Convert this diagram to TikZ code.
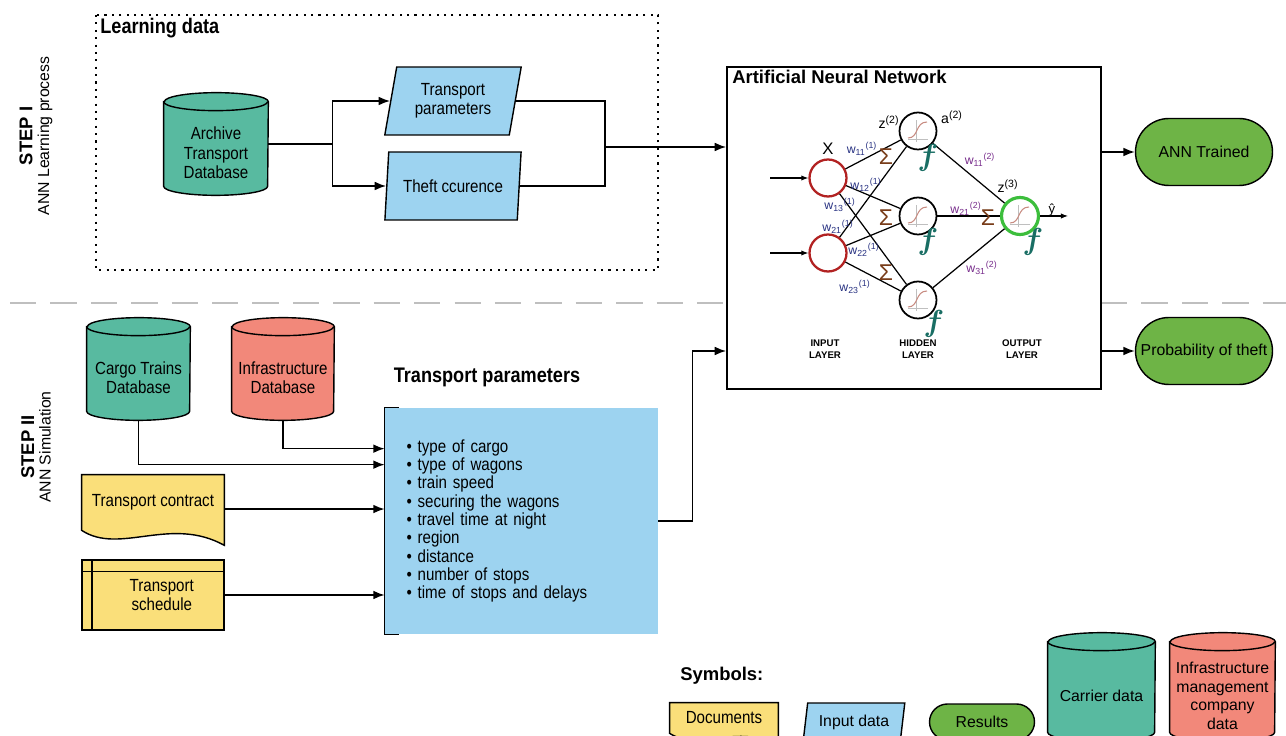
\documentclass[tikz,border=0pt]{standalone}
\usepackage{fontspec}
\setmainfont{Liberation Sans}
\newfontfamily\narrowsf{Liberation Sans}[FakeStretch=0.86]
\usetikzlibrary{shapes.geometric,positioning,arrows.meta,calc}
\pgfdeclarelayer{background}
\pgfsetlayers{background,main}

\definecolor{dbteal}{RGB}{88,186,160}
\definecolor{dbsalmon}{RGB}{242,136,122}
\definecolor{inblue}{RGB}{157,211,240}
\definecolor{docyellow}{RGB}{250,223,122}
\definecolor{resgreen}{RGB}{110,180,70}
\definecolor{sigmabrown}{RGB}{120,60,25}
\definecolor{fteal}{RGB}{25,110,100}
\definecolor{wblue}{RGB}{40,50,130}
\definecolor{wpurple}{RGB}{120,45,140}
\definecolor{inred}{RGB}{178,34,34}
\definecolor{outgreen}{RGB}{60,190,60}
\definecolor{sigcurve}{RGB}{200,140,130}

\begin{document}
\begin{tikzpicture}[x=0.02cm, y=-0.02cm,
		every node/.style={inner sep=0pt},
		conn/.style={line width=0.9pt, ->},
		boxtxt/.style={font=\narrowsf\fontsize{10}{11}\selectfont, align=center},
		dbase/.style={rectangle, boxtxt},
		inputbox/.style={trapezium, trapezium left angle=77, trapezium right angle=103, trapezium stretches=true,
			draw, line width=0.8pt, fill=inblue, boxtxt, minimum width=2.74cm, minimum height=1.36cm},
		result/.style={rectangle, rounded corners=0.67cm, draw, line width=0.8pt, fill=resgreen,
			minimum width=2.74cm, minimum height=1.34cm, font=\fontsize{9}{10}\selectfont},
		docbox/.style={draw, line width=0.8pt, fill=docyellow},
		steplbl/.style={rotate=90, align=center, font=\fontsize{9}{9.5}\selectfont},
		neuron/.style={circle, draw, line width=1pt, minimum size=0.74cm, fill=white},
		wlbl/.style={font=\fontsize{7}{7}\selectfont},
		sumlbl/.style={text=sigmabrown, font=\fontsize{13}{13}\selectfont},
		actlbl/.style={text=fteal, font=\fontsize{18}{18}\selectfont\boldmath},
		layerlbl/.style={align=center, font=\fontsize{5.5}{6.5}\selectfont\bfseries},
		sigmoid/.pic={
			\draw[black!25, line width=0.3pt] (-10,8) -- (10,8) (-2,11) -- (-2,-11);
			\draw[sigcurve, line width=0.6pt] (-10,7) .. controls (1,7) and (-3,-9) .. (9,-9);
		},
		>={Latex[length=6.5pt,width=5pt]}]

	\useasboundingbox (0,0) rectangle (1286,736);
	\clip (0,0) rectangle (1286,736);

	% line between the two steps
	\draw[black!25, line width=0.8pt, dash pattern=on 15pt off 8pt] (10,303) -- (1286,303);

	%%% STEP I
	\node[steplbl] (step1) at (36,136) {{\fontsize{10.5}{11}\selectfont\bfseries STEP I}\\ANN Learning process};
	\draw[line width=1.1pt, dash pattern=on 1.2pt off 3pt] (96,15) rectangle (658,270);
	\node[anchor=north west, font=\narrowsf\fontsize{12}{13}\selectfont\bfseries] (learn) at (100,18) {Learning data};

	\node[dbase, minimum width=2.08cm, minimum height=1.68cm] (archive) at (216,153) {Archive\\Transport\\Database};
	\node[inputbox] (transp) at (453,101) {Transport\\parameters};
	\node[inputbox] (theft) at (453,186) {Theft ccurence};
	\coordinate (join) at (605,147);
	\coordinate (split) at ([yshift=5pt]archive.east);

	\draw[conn] (split) -- ++(64,0) |- (transp);
	\draw[conn] (split) -- ++(64,0) |- (theft);
	\draw[line width=0.9pt] (transp.east) -| (join);
	\draw[line width=0.9pt] (theft.east) -| (join);

	%%% neural network
	\node[draw, line width=1pt, fill=white, minimum width=7.48cm, minimum height=6.44cm] (ann) at (914,228) {};
	\node[anchor=north west, font=\fontsize{10.5}{12}\selectfont\bfseries] (anntitle) at (732,70) {Artificial Neural Network};
	\draw[conn] (join) -- (join -| ann.west);

	\node[neuron, draw=inred, line width=1.3pt] (in1) at (828,178) {};
	\node[neuron, draw=inred, line width=1.3pt] (in2) at (828,253) {};
	\foreach \n/\y in {1/131,2/216,3/300}
		\node[neuron] (h\n) at (918,\y) {};
	\node[neuron, draw=outgreen, line width=1.8pt] (out) at (1020,216) {};

	\foreach \i in {1,2}
		\foreach \j in {1,2,3}
			\draw[line width=0.7pt] (in\i) -- (h\j);
	\foreach \j in {1,2,3}
		\draw[line width=0.7pt] (h\j) -- (out);
	\foreach \n in {h1,h2,h3,out}
		\pic at (\n) {sigmoid};

	\coordinate (x1) at (770,178);
	\coordinate (x2) at (770,253);
	\coordinate (yout) at (1068,216);
	\draw[->, line width=0.6pt, >={Latex[length=4pt,width=3pt]}] (x1) -- (in1);
	\draw[->, line width=0.6pt, >={Latex[length=4pt,width=3pt]}] (x2) -- (in2);
	\draw[->, line width=0.6pt, >={Latex[length=4pt,width=3pt]}] (out) -- (yout);

	\node[font=\fontsize{9.5}{10}\selectfont] (xlbl) at (828,149) {X};
	\node[font=\fontsize{8}{8}\selectfont] (z2) at (889,122) {z\textsuperscript{(2)}};
	\node[font=\fontsize{8}{8}\selectfont] (a2) at (952,117) {a\textsuperscript{(2)}};
	\node[font=\fontsize{8}{8}\selectfont] (z3) at (1008,186) {z\textsuperscript{(3)}};
	\node[font=\fontsize{7.5}{8}\selectfont] (yhat) at (1052,210) {ŷ};

	\foreach \s/\xx/\yy in {11/862/149, 12/866/185, 13/840/205, 21/838/227, 22/864/250, 23/855/287}
		\node[wlbl, text=wblue] (w\s) at (\xx,\yy) {w\textsubscript{\s}\textsuperscript{(1)}};
	\foreach \s/\xx/\yy in {11/980/160, 21/966/209, 31/982/268}
		\node[wlbl, text=wpurple] (v\s) at (\xx,\yy) {w\textsubscript{\s}\textsuperscript{(2)}};
	\foreach \xx/\yy [count=\k] in {886/157, 886/218, 886/273, 988/218}
		\node[sumlbl] (sum\k) at (\xx,\yy) {Σ};
	\foreach \xx/\yy [count=\k] in {928/158, 928/242, 934/324, 1033/242}
		\node[actlbl] (act\k) at (\xx,\yy) {$f$};

	\node[layerlbl] (lin) at (825,349) {INPUT\\LAYER};
	\node[layerlbl] (lhid) at (918,349) {HIDDEN\\LAYER};
	\node[layerlbl] (lout) at (1022,349) {OUTPUT\\LAYER};

	%%% results
	\node[result] (trained) at (1204,152) {ANN Trained};
	\node[result] (prob) at (1204,351) {Probability of theft};
	\draw[conn] (ann.east |- trained) -- (trained);
	\draw[conn] (ann.east |- prob) -- (prob);

	%%% STEP II
	\node[steplbl] (step2) at (36,447) {{\fontsize{10.5}{11}\selectfont\bfseries STEP II}\\ANN Simulation};
	\node[dbase, minimum width=2.06cm, minimum height=1.68cm] (cargo) at (138.5,378) {Cargo Trains\\Database};
	\node[dbase, minimum width=2.04cm, minimum height=1.68cm] (infra) at (283,378) {Infrastructure\\Database};

	\node[font=\narrowsf\fontsize{12}{13}\selectfont\bfseries] (ptitle) at (487,377) {Transport parameters};
	\node[fill=inblue, minimum width=5.46cm, minimum height=4.52cm, text width=4.6cm, align=left,
		font=\narrowsf\fontsize{10}{10.4}\selectfont] (params) at (521.5,521) {%
		• type of cargo\\• type of wagons\\• train speed\\• securing the wagons\\• travel time at night\\%
		• region\\• distance\\• number of stops\\• time of stops and delays};
	\draw[line width=0.9pt] ([xshift=8pt]params.north west) -- (params.north west) -- (params.south west) -- ([xshift=8pt]params.south west);

	\node[boxtxt, minimum width=2.84cm, minimum height=1.08cm] (contract) at (153,502) {Transport contract};
	\node[boxtxt, draw, fill=docyellow, line width=0.8pt, minimum width=2.84cm, minimum height=1.4cm] (sched) at (153,595)
		{\hspace*{10pt}Transport\\\hspace*{10pt}schedule};
	\draw[line width=0.8pt] ([xshift=6pt]sched.north west) -- ([xshift=6pt]sched.south west);
	\draw[line width=0.8pt] ([yshift=-7pt]sched.north west) -- ([yshift=-7pt]sched.north east);

	\coordinate (pin1) at ([yshift=-0.82cm]params.north west);
	\coordinate (pin2) at ([yshift=-1.14cm]params.north west);
	\coordinate (cout) at ([yshift=-4pt]contract.east);
	\draw[conn] (infra.south) |- (pin1);
	\draw[conn] (cargo.south) |- (pin2);
	\draw[conn] (cout) -- (cout -| params.west);
	\draw[conn] (sched) -- (sched -| params.west);
	\draw[conn] (params.east) -- ++(34,0) |- (ann.west |- prob);

	%%% symbols
	\node[anchor=west, font=\fontsize{10.5}{12}\selectfont\bfseries] (symb) at (680,676) {Symbols:};
	\node[boxtxt, minimum width=2.16cm, minimum height=0.6cm] (docsym) at (724,718) {Documents};
	\node[inputbox, minimum width=2.04cm, minimum height=0.76cm, font=\fontsize{9}{10}\selectfont] (insym) at (854,722) {Input data};
	\node[result, rounded corners=0.36cm, minimum width=2.1cm, minimum height=0.72cm] (ressym) at (982,722) {Results};
	\node[dbase, minimum width=2.14cm, minimum height=1.8cm, font=\fontsize{9}{10}\selectfont] (carrier) at (1101.5,696) {Carrier data};
	\node[dbase, minimum width=2.1cm, minimum height=1.8cm, font=\fontsize{9}{10.5}\selectfont] (imsym) at (1222.5,696) {Infrastructure\\management\\company\\data};

	\begin{pgfonlayer}{background}
		% database cans behind their labels
		\foreach \c/\col/\rx in {archive/dbteal/1.04cm, cargo/dbteal/1.03cm, infra/dbsalmon/1.02cm,
				carrier/dbteal/1.07cm, imsym/dbsalmon/1.05cm} {
			\filldraw[fill=\col, line width=0.8pt] ([yshift=0.18cm]\c.north west) -- ([yshift=0.18cm]\c.south west)
				arc[start angle=180, end angle=360, x radius=\rx, y radius=0.18cm]
				-- ([yshift=0.18cm]\c.north east)
				arc[start angle=0, end angle=180, x radius=\rx, y radius=0.18cm] -- cycle;
			\draw[line width=0.8pt] ([yshift=0.18cm]\c.north west)
				arc[start angle=180, end angle=360, x radius=\rx, y radius=0.18cm];
		}
		\draw[docbox] (contract.north west) -- (contract.north east) -- ($(contract.south east)+(0,16)$)
			.. controls +(-54,-30) and +(38,25) .. ($(contract.south west)+(0,1)$) -- cycle;
		\draw[docbox] (docsym.north west) -- (docsym.north east) -- ($(docsym.south east)+(0,12)$)
			.. controls +(-40,-22) and +(28,18) .. (docsym.south west) -- cycle;
	\end{pgfonlayer}
\end{tikzpicture}
\end{document}
